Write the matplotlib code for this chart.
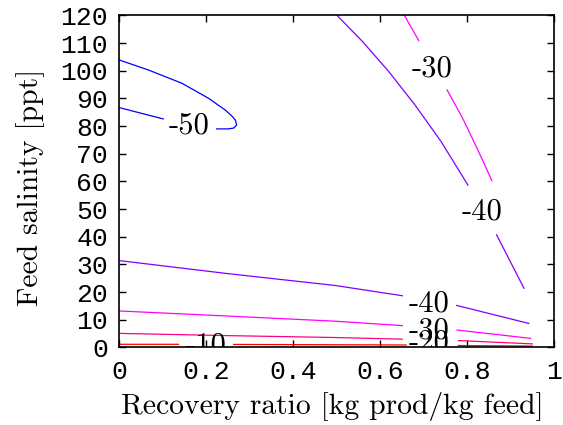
import numpy as np
import matplotlib.pyplot as plt

nan = np.nan

# contour lines (nan = gap left for a label)
x_m50 = [0.0, 0.067, 0.144, 0.205, 0.244, 0.260, 0.267, 0.270, 0.263, 0.250, 0.224, nan, 0.101, 0.0]
y_m50 = [103.9, 100.3, 95.5, 90.1, 85.8, 83.5, 82.2, 80.4, 79.3, 79.0, 79.0, nan, 82.6, 86.7]

x_m40_hi = [0.501, 0.560, 0.620, 0.680, 0.740, 0.802, nan, 0.868, 0.931]
y_m40_hi = [120.0, 110.5, 99.7, 87.7, 74.5, 58.7, nan, 40.7, 21.4]

x_m30_hi = [0.656, 0.689, nan, 0.754, 0.790, 0.823, 0.843, 0.857]
y_m30_hi = [120.0, 110.9, nan, 93.1, 82.8, 72.0, 65.2, 60.3]

x_m40_lo = [0.0, 0.244, 0.497, 0.651, nan, 0.776, 0.942]
y_m40_lo = [31.4, 26.8, 22.4, 18.7, nan, 15.2, 8.7]

x_m30_lo = [0.0, 0.244, 0.497, 0.651, nan, 0.777, 0.946]
y_m30_lo = [13.2, 11.4, 9.5, 7.9, nan, 6.3, 3.3]

x_m20 = [0.0, 0.244, 0.497, 0.651, nan, 0.78, 0.95]
y_m20 = [5.1, 4.3, 3.6, 3.0, nan, 2.5, 1.3]

x_m10 = [0.0, 0.136, nan, 0.263, 0.66, nan, 0.78, 0.95]
y_m10 = [1.15, 1.15, nan, 1.1, 0.9, nan, 0.7, 0.5]

label_text = ["-50", "-30", "-40", "-40", "-30", "-20", "-10"]
label_x = [0.161, 0.719, 0.835, 0.712, 0.712, 0.712, 0.200]
label_y = [77.2, 98.1, 46.1, 12.9, 3.3, -1.0, -2.0]

xticks = [0, 0.2, 0.4, 0.6, 0.8, 1.0]
xtick_labels = ["0", "0.2", "0.4", "0.6", "0.8", "1"]
yticks = list(range(0, 121, 10))

plt.rcParams['font.family'] = ['Liberation Mono', 'DejaVu Sans Mono']

fig = plt.figure(figsize=(5.63, 4.25), dpi=100)
ax = fig.add_axes([0.2119, 0.1824, 0.7721, 0.7812])

lines = [
    (x_m50, y_m50, '#0000ff'),
    (x_m40_hi, y_m40_hi, '#8000ff'),
    (x_m30_hi, y_m30_hi, '#ff00ff'),
    (x_m40_lo, y_m40_lo, '#8000ff'),
    (x_m30_lo, y_m30_lo, '#ff00ff'),
    (x_m20, y_m20, '#ff0080'),
    (x_m10, y_m10, '#ff0000'),
]
for xs, ys, c in lines:
    ax.plot(xs, ys, color=c, lw=0.9)

for t, x, y in zip(label_text, label_x, label_y):
    ax.text(x, y, t, family='cmr10', fontsize=22, ha='center', va='baseline',
            clip_on=True)

ax.set_xlim(0, 1)
ax.set_ylim(0, 120)
ax.set_xticks(xticks)
ax.set_xticklabels(xtick_labels)
ax.set_yticks(yticks)
ax.tick_params(direction='in', top=True, right=True, length=5, width=1,
               labelsize=19)
ax.tick_params(axis='x', pad=9)
ax.tick_params(axis='y', pad=8)
for s in ax.spines.values():
    s.set_linewidth(1.2)

ax.set_xlabel("Recovery ratio [kg prod/kg feed]", family='cmr10', fontsize=21.3)
ax.set_ylabel("Feed salinity [ppt]", family='cmr10', fontsize=21.3)
ax.xaxis.set_label_coords(0.49, -0.133)
ax.yaxis.set_label_coords(-0.205, 0.483)
ax.xaxis.label.set_va('top')
ax.yaxis.label.set_va('center')

fig.savefig("out.png", dpi=100)
